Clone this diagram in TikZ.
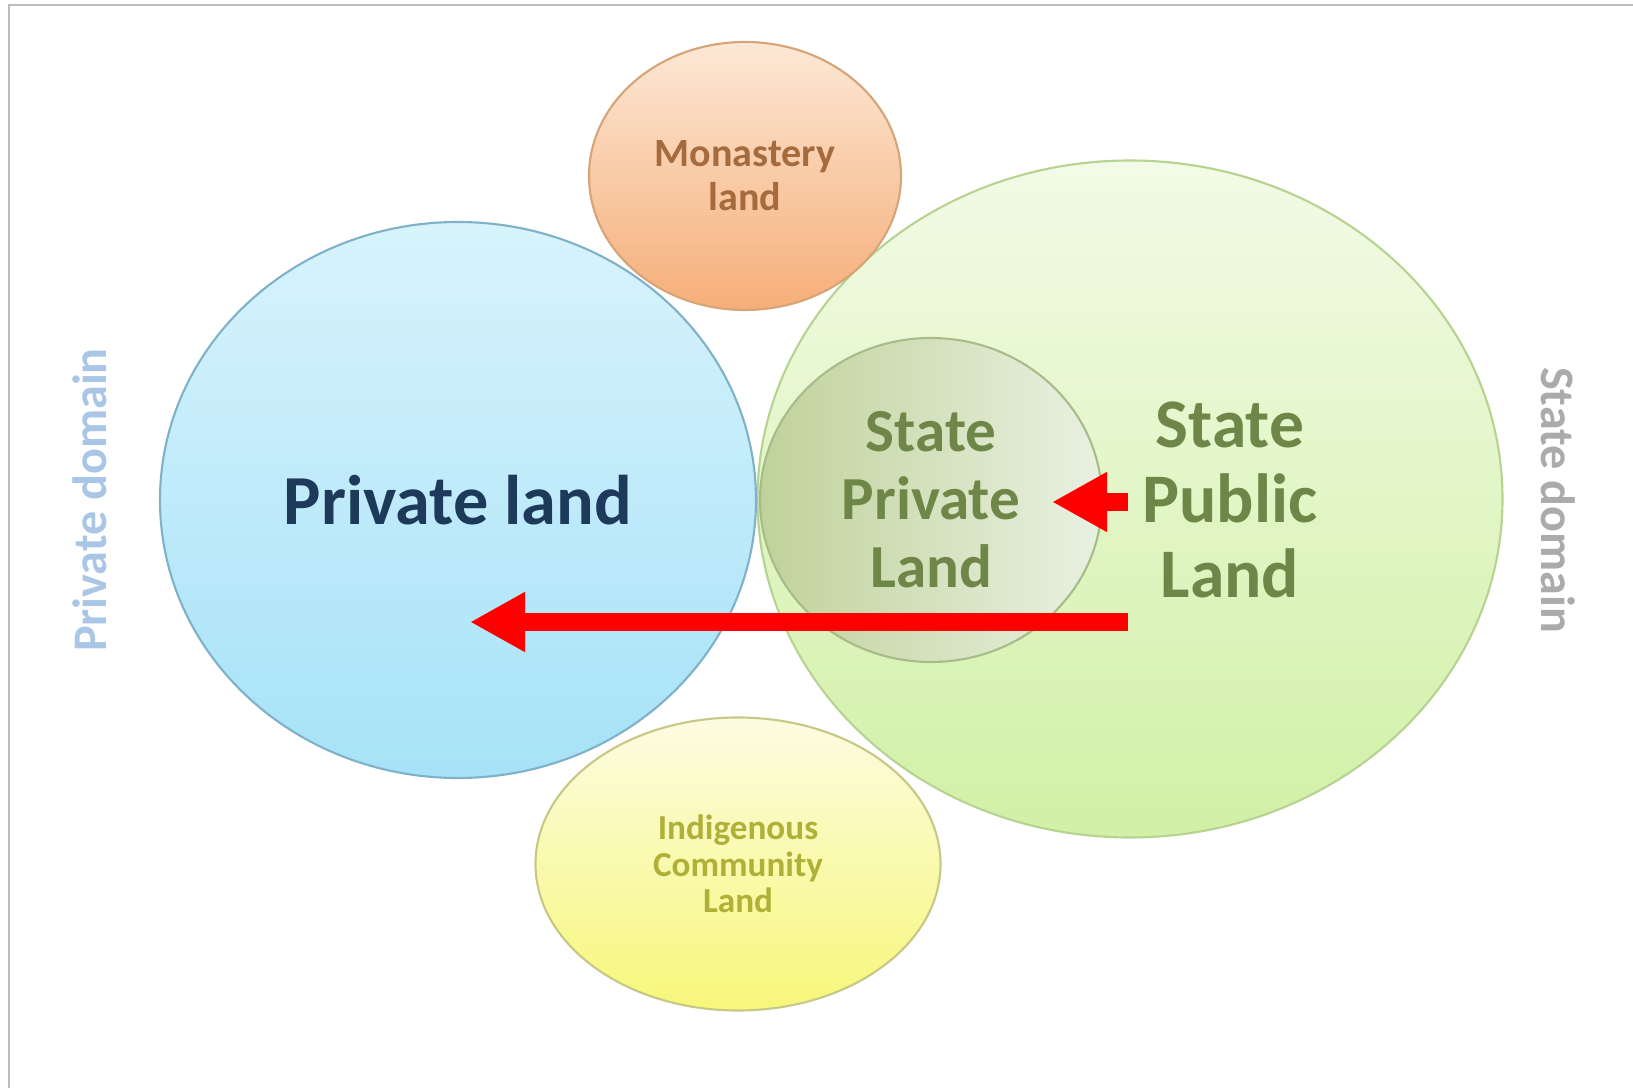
\documentclass[tikz,border=0pt]{standalone}
\usepackage{fontspec}
\setmainfont{Carlito}
\usetikzlibrary{shapes.geometric,arrows.meta}

\definecolor{framegray}{HTML}{BCBCBC}
\definecolor{privtop}{HTML}{D8F3FC}
\definecolor{privbot}{HTML}{A6E2F8}
\definecolor{privedge}{HTML}{7FB2C9}
\definecolor{montop}{HTML}{FCE8D6}
\definecolor{monbot}{HTML}{F6AE78}
\definecolor{monedge}{HTML}{D6A476}
\definecolor{pubtop}{HTML}{F2FBE6}
\definecolor{pubbot}{HTML}{D2F0A6}
\definecolor{pubedge}{HTML}{B7D391}
\definecolor{sprivleft}{HTML}{C0D29A}
\definecolor{sprivright}{HTML}{E9F1E2}
\definecolor{sprivedge}{HTML}{A8BC8A}
\definecolor{indtop}{HTML}{FCFCE2}
\definecolor{indbot}{HTML}{F7F77A}
\definecolor{indedge}{HTML}{C8C886}
\definecolor{navytxt}{HTML}{1E3A5A}
\definecolor{olivetxt}{HTML}{6E8748}
\definecolor{montxt}{HTML}{A66B3D}
\definecolor{indtxt}{HTML}{B0B038}
\definecolor{privdomtxt}{HTML}{A9C6E6}
\definecolor{statedomtxt}{HTML}{ABABAB}

\begin{document}
\begin{tikzpicture}[
		blob/.style={ellipse,inner sep=0pt,line width=0.6pt,align=center},
		redarrow/.style={draw=red,line width=0.18cm,-{Triangle[length=0.55cm,width=0.56cm]}},
		txt/.style={align=center}
	]
		\useasboundingbox (0,0) rectangle (16.33,10.88);
		\fill[white] (0,0) rectangle (16.33,10.88);
		\draw[framegray,line width=0.02cm] (0.09,0) -- (0.09,10.83) -- (16.33,10.83);

		\node[blob,draw=pubedge,top color=pubtop,bottom color=pubbot,minimum width=7.45cm,minimum height=6.77cm] (pub) at (11.30,5.89) {};
		\node[blob,draw=sprivedge,left color=sprivleft,right color=sprivright,minimum width=3.42cm,minimum height=3.24cm,
			text=olivetxt,font=\bfseries\fontsize{17.4pt}{19.3pt}\selectfont] (spriv) at (9.31,5.88) {State\\Private\\Land};
		\node[blob,draw=privedge,top color=privtop,bottom color=privbot,minimum width=5.96cm,minimum height=5.56cm,
			text=navytxt,font=\bfseries\fontsize{20pt}{21pt}\selectfont] (priv) at (4.58,5.88) {Private land};
		\node[blob,draw=monedge,top color=montop,bottom color=monbot,minimum width=3.12cm,minimum height=2.68cm,
			text=montxt,font=\bfseries\fontsize{11.4pt}{12.5pt}\selectfont] (mon) at (7.45,9.12) {Monastery\\land};
		\node[blob,draw=indedge,top color=indtop,bottom color=indbot,minimum width=4.05cm,minimum height=2.93cm,
			text=indtxt,font=\bfseries\fontsize{10pt}{10.4pt}\selectfont] (ind) at (7.38,2.24) {Indigenous\\Community\\Land};

		\node[txt,text=olivetxt,font=\bfseries\fontsize{19.8pt}{21.3pt}\selectfont] (publbl) at (12.30,5.88) {State\\Public\\Land};
		\node[txt,text=privdomtxt,font=\bfseries\fontsize{13.7pt}{15pt}\selectfont,rotate=90] (privdom) at (0.90,5.88) {Private domain};
		\node[txt,text=statedomtxt,font=\bfseries\fontsize{13.7pt}{15pt}\selectfont,rotate=-90] (statedom) at (15.58,5.88) {State domain};

		\coordinate (smallfrom) at (11.28,5.86);
		\coordinate (smallto) at (10.52,5.86);
		\coordinate (bigfrom) at (11.28,4.66);
		\coordinate (bigto) at (4.70,4.66);
		\draw[redarrow] (smallfrom) -- (smallto);
		\draw[redarrow] (bigfrom) -- (bigto);
	\end{tikzpicture}
\end{document}
